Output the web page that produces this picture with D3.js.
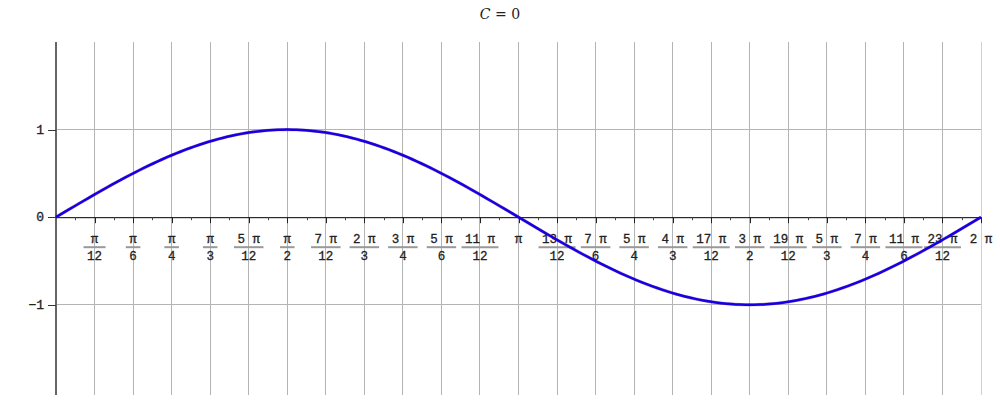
<!DOCTYPE html>
<html><head><meta charset="utf-8">
<script src="https://cdn.jsdelivr.net/npm/d3@7"></script>
<style>body{margin:0;background:#fff}svg{display:block}</style>
</head><body>
<svg id="c" width="1000" height="400"></svg>
<script>
// Data
const title = "C = 0";
const xTickNums = [1,2,3,4,5,6,7,8,9,10,11,12,13,14,15,16,17,18,19,20,21,22,23,24]; // multiples of pi/12
const xTickNumer = ["π","π","π","π","5 π","π","7 π","2 π","3 π","5 π","11 π","π","13 π","7 π","5 π","4 π","17 π","3 π","19 π","5 π","7 π","11 π","23 π","2 π"];
const xTickDenom = ["12","6","4","3","12","2","12","3","4","6","12","","12","6","4","3","12","2","12","3","4","6","12",""];
const yTicks = [-1, 0, 1];
const yTickLabels = ["−1","0","1"];
const curveSamples = d3.range(0, 201).map(i => i / 200); // fraction of period
const C = 0;

const svg = d3.select("#c");
const x = d3.scaleLinear().domain([0, 2*Math.PI]).range([56, 981]);
const y = d3.scaleLinear().domain([-2.03, 2]).range([395, 42]);
const serif = "'DejaVu Serif', serif";
const mono = "'Liberation Mono', monospace";

// title
const t = svg.append("text").attr("x", 500).attr("y", 19).attr("text-anchor","middle")
  .attr("font-family", serif).attr("font-size", 14).attr("fill","#222");
t.append("tspan").attr("font-style","italic").text("C");
t.append("tspan").text(" = 0");

// vertical grid
svg.append("g").selectAll("line").data(xTickNums).join("line")
  .attr("x1", d => x(d*Math.PI/12)).attr("x2", d => x(d*Math.PI/12))
  .attr("y1", y(2)).attr("y2", y(-2.03))
  .attr("stroke", (d) => d === 24 ? "#d0d0d0" : "#b4b4b4").attr("stroke-width", 1)
  .attr("shape-rendering","crispEdges");
// horizontal grid
svg.append("g").selectAll("line").data(yTicks.filter(d => d !== 0)).join("line")
  .attr("x1", x(0)).attr("x2", x(2*Math.PI)).attr("y1", d => y(d)).attr("y2", d => y(d))
  .attr("stroke", "#b4b4b4").attr("stroke-width", 1).attr("shape-rendering","crispEdges");

// y axis line
svg.append("line").attr("x1", x(0)).attr("x2", x(0)).attr("y1", y(2)).attr("y2", y(-2.03))
  .attr("stroke", "#666").attr("stroke-width", 2);

// x axis line
svg.append("line").attr("x1", x(0)).attr("x2", x(2*Math.PI)).attr("y1", y(0)+0.5).attr("y2", y(0)+0.5)
  .attr("stroke", "#000").attr("stroke-width", 1);

// major and minor ticks on x
svg.append("g").selectAll("line").data(xTickNums).join("line")
  .attr("x1", d => Math.round(x(d*Math.PI/12))+0.5).attr("x2", d => Math.round(x(d*Math.PI/12))+0.5)
  .attr("y1", y(0)).attr("y2", y(0)+6).attr("stroke","#222");
svg.append("g").selectAll("line").data(xTickNums).join("line")
  .attr("x1", d => Math.round(x((d-0.5)*Math.PI/12))+0.5).attr("x2", d => Math.round(x((d-0.5)*Math.PI/12))+0.5)
  .attr("y1", y(0)).attr("y2", y(0)+3).attr("stroke","#444");

// y ticks and labels
svg.append("g").selectAll("line").data(yTicks).join("line")
  .attr("x1", x(0)-8).attr("x2", x(0)).attr("y1", d => Math.round(y(d))+0.5).attr("y2", d => Math.round(y(d))+0.5)
  .attr("stroke","#333");
svg.append("g").selectAll("text").data(yTicks).join("text")
  .attr("x", 44).attr("y", d => y(d)+4).attr("text-anchor","end")
  .attr("font-family", mono).attr("font-size", 13).attr("fill","#222")
  .attr("stroke","#222").attr("stroke-width",0.3)
  .text((d,i) => yTickLabels[i]);

// x labels (fractions)
const lab = svg.append("g").selectAll("g").data(xTickNums).join("g")
  .attr("transform", d => `translate(${x(d*Math.PI/12)},0)`);
lab.append("text").attr("class","num").attr("y", y(0)+26).attr("text-anchor","middle")
  .attr("font-family", mono).attr("font-size", 12.5).attr("fill","#222")
  .attr("stroke","#222").attr("stroke-width",0.3)
  .text((d,i) => xTickNumer[i]);
const hasDen = d => xTickDenom[xTickNums.indexOf(d)] !== "";
lab.filter(hasDen).append("text").attr("class","den").attr("y", y(0)+43).attr("text-anchor","middle")
  .attr("font-family", mono).attr("font-size", 12.5).attr("fill","#222")
  .attr("stroke","#222").attr("stroke-width",0.3)
  .text(d => xTickDenom[xTickNums.indexOf(d)]);
lab.filter(hasDen).each(function(){
  const g = d3.select(this);
  const wn = g.select(".num").node().getComputedTextLength();
  const wd = g.select(".den").node().getComputedTextLength();
  const w = Math.max(wn, wd) + 7;
  g.append("line").attr("x1", -w/2).attr("x2", w/2)
    .attr("y1", y(0)+30).attr("y2", y(0)+30).attr("stroke","#999").attr("stroke-width",2);
});

// curve
const line = d3.line().x(f => x(f*2*Math.PI)).y(f => y(Math.sin(f*2*Math.PI + C))).curve(d3.curveLinear);
svg.append("path").datum(curveSamples).attr("d", line).attr("fill","none")
  .attr("stroke","#7a1050").attr("stroke-width",3.2).attr("stroke-opacity",0.4);
svg.append("path").datum(curveSamples).attr("d", line).attr("fill","none")
  .attr("stroke","#1400e6").attr("stroke-width",2.5);
</script>
</body></html>
